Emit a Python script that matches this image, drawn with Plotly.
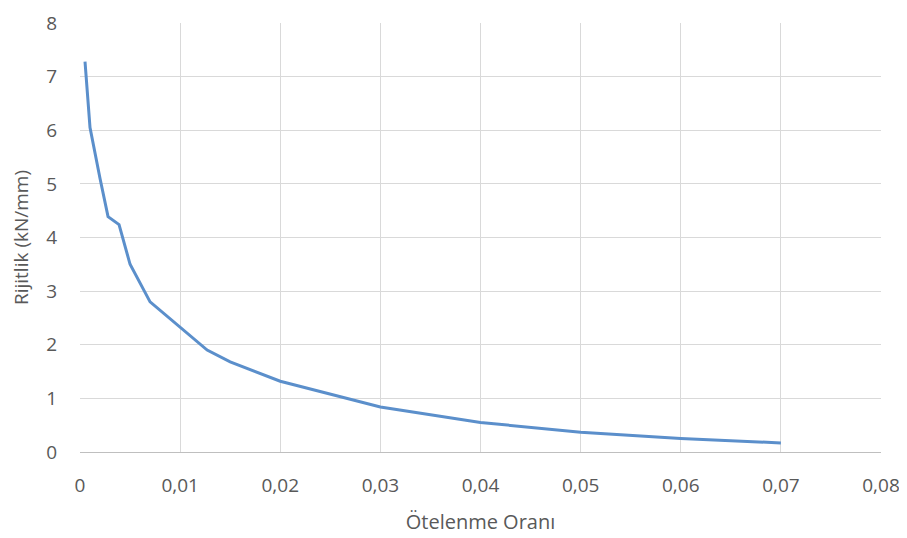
import plotly.graph_objects as go

drift = [0.0005, 0.001, 0.002, 0.0028, 0.0039, 0.005, 0.007, 0.01, 0.0127, 0.015, 0.02, 0.03, 0.04, 0.05, 0.06, 0.07]
stiffness = [7.28, 6.05, 5.1, 4.39, 4.24, 3.5, 2.8, 2.32, 1.9, 1.68, 1.32, 0.84, 0.55, 0.37, 0.25, 0.17]

x_ticks = [0, 0.01, 0.02, 0.03, 0.04, 0.05, 0.06, 0.07, 0.08]
x_labels = ["0", "0,01", "0,02", "0,03", "0,04", "0,05", "0,06", "0,07", "0,08"]
y_ticks = [0, 1, 2, 3, 4, 5, 6, 7, 8]

font_family = "Open Sans, Noto Sans, sans-serif"
text_color = "#595959"
grid_color = "#D9D9D9"

fig = go.Figure(go.Scatter(
    x=drift, y=stiffness, mode="lines",
    line=dict(color="#5B8FCB", width=3),
    hoverinfo="skip", showlegend=False,
))

fig.update_layout(
    width=907, height=538,
    margin=dict(l=72, r=34, t=15, b=94, autoexpand=False),
    paper_bgcolor="white", plot_bgcolor="white",
    font=dict(family=font_family, size=19, color=text_color),
    separators=",.",
)
fig.update_xaxes(
    range=[0, 0.08], tickvals=x_ticks, ticktext=x_labels,
    showgrid=True, gridcolor=grid_color, gridwidth=1,
    zeroline=False, showline=True, linecolor="#BFBFBF", linewidth=1, mirror=False,
    ticks="", ticklabelstandoff=16, automargin=False,
    title=dict(text="Ötelenme Oranı", font=dict(size=20, color=text_color), standoff=18),
)
fig.update_yaxes(
    range=[0, 8], tickvals=y_ticks,
    showgrid=True, gridcolor=grid_color, gridwidth=1,
    zeroline=False, showline=False,
    ticks="", ticklabelstandoff=22, automargin=False,
    title=dict(text="Rijitlik (kN/mm)", font=dict(size=19, color=text_color), standoff=16),
)

fig.write_html("out.html")
